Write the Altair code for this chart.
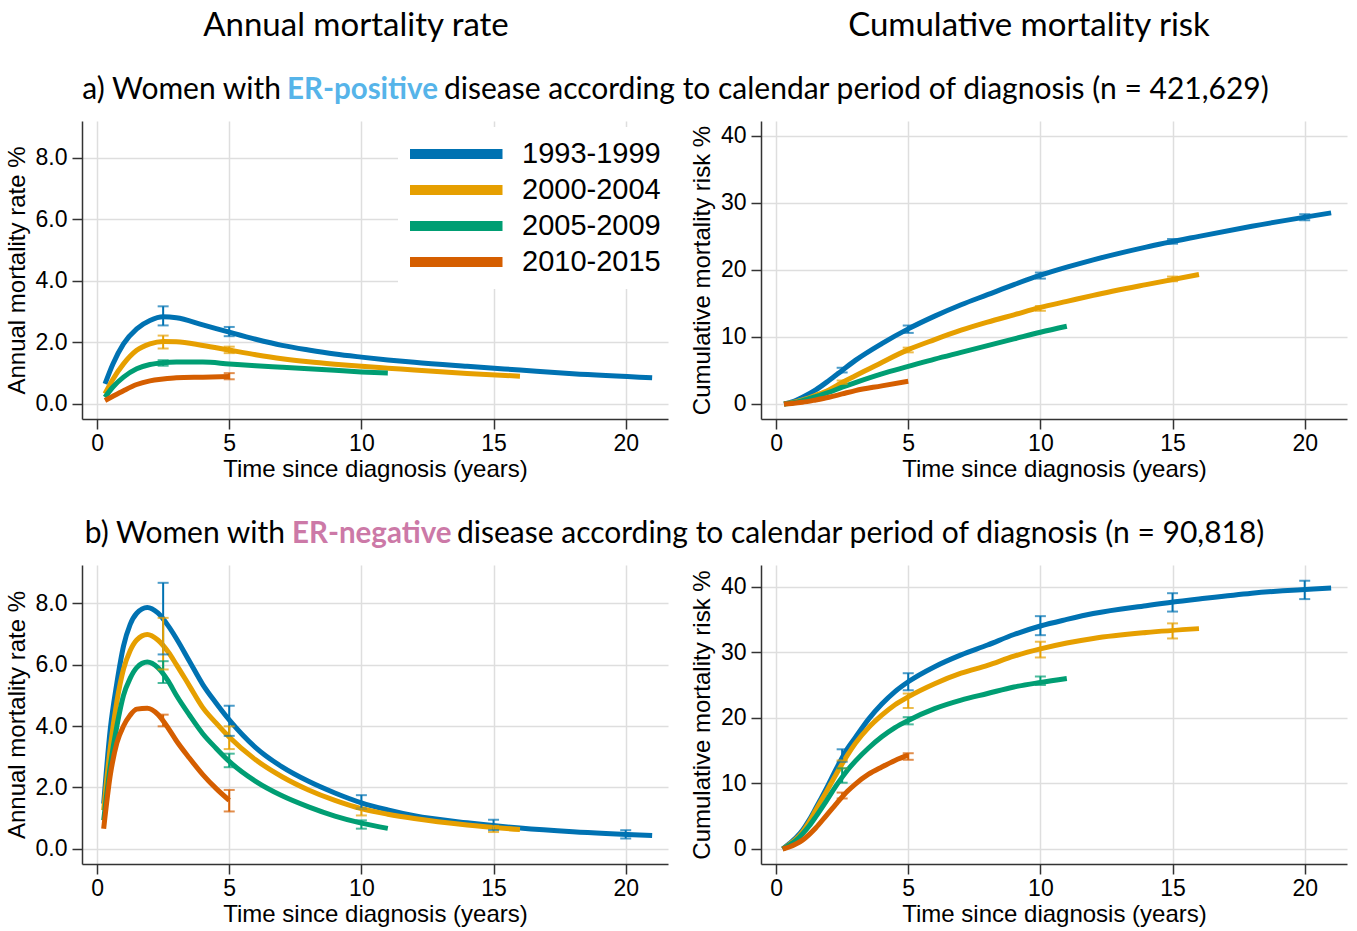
import altair as alt
import pandas as pd

# ---------------- data ----------------
PERIODS = ["1993-1999", "2000-2004", "2005-2009", "2010-2015"]
PERIOD_COLORS = ["#0072B2", "#E69F00", "#009E73", "#D55E00"]

# time grid (years) for ER-positive curves; each series uses the leading part
T_POS = [0.3, 0.6, 1, 1.5, 2, 2.5, 3, 4, 5, 6, 7, 8, 9, 10, 11, 12, 14, 16, 18, 21]

# ER-positive, annual mortality rate (%)
POS_RATE_9399 = [0.65, 1.3, 1.95, 2.44, 2.71, 2.83, 2.8, 2.57, 2.33, 2.1, 1.9, 1.75, 1.62, 1.52, 1.43, 1.35, 1.22, 1.1, 0.98, 0.85]
POS_RATE_0004 = [0.33, 0.8, 1.3, 1.74, 1.95, 2.03, 2.02, 1.9, 1.75, 1.6, 1.47, 1.37, 1.29, 1.22, 1.16, 1.1, 0.99, 0.9]
POS_RATE_0509 = [0.22, 0.55, 0.87, 1.14, 1.28, 1.34, 1.36, 1.36, 1.3, 1.24, 1.19, 1.14, 1.09, 1.04, 1.0]
POS_RATE_1015 = [0.11, 0.25, 0.43, 0.63, 0.75, 0.81, 0.85, 0.87, 0.89]

# ER-positive, cumulative mortality risk (%)
POS_CUM_9399 = [0, 0.3, 1.0, 2.1, 3.5, 5.0, 6.5, 9.0, 11.2, 13.1, 14.8, 16.3, 17.8, 19.2, 20.4, 21.5, 23.4, 25.0, 26.5, 28.5]
POS_CUM_0004 = [0, 0.2, 0.6, 1.3, 2.1, 3.2, 4.2, 6.2, 8.1, 9.6, 11.0, 12.2, 13.3, 14.4, 15.3, 16.2, 17.8, 19.3]
POS_CUM_0509 = [0, 0.15, 0.5, 1.1, 1.75, 2.5, 3.2, 4.5, 5.6, 6.7, 7.7, 8.7, 9.7, 10.7, 11.6]
POS_CUM_1015 = [0, 0.08, 0.25, 0.6, 1.0, 1.5, 2.0, 2.7, 3.4]

# time grid (years) for ER-negative curves
T_NEG = [0.25, 0.5, 0.75, 1, 1.25, 1.5, 1.9, 2.3, 2.7, 3, 3.5, 4, 4.5, 5, 6, 7, 8, 9, 10, 11, 12, 14, 16, 18, 21]

# ER-negative, annual mortality rate (%)
NEG_RATE_9399 = [1.47, 3.9, 5.4, 6.6, 7.3, 7.67, 7.86, 7.68, 7.25, 6.85, 6.1, 5.35, 4.75, 4.2, 3.3, 2.67, 2.2, 1.82, 1.5, 1.27, 1.08, 0.85, 0.68, 0.56, 0.44]
NEG_RATE_0004 = [1.26, 3.3, 4.8, 5.85, 6.45, 6.8, 6.98, 6.8, 6.4, 6.0, 5.3, 4.6, 4.1, 3.64, 2.9, 2.35, 1.92, 1.58, 1.31, 1.13, 0.99, 0.78, 0.63]
NEG_RATE_0509 = [0.93, 2.7, 4.0, 5.0, 5.55, 5.9, 6.08, 5.9, 5.45, 5.0, 4.35, 3.75, 3.28, 2.85, 2.2, 1.73, 1.37, 1.07, 0.84, 0.67]
NEG_RATE_1015 = [0.66, 2.4, 3.45, 4.0, 4.35, 4.55, 4.58, 4.38, 3.92, 3.52, 2.95, 2.42, 1.97, 1.58]

# ER-negative, cumulative mortality risk (%)
NEG_CUM_9399 = [0, 0.8, 1.7, 2.85, 4.4, 6.2, 9.2, 12.4, 15.3, 17.0, 19.8, 22.1, 24.0, 25.5, 27.8, 29.6, 31.1, 32.7, 34.0, 35.0, 35.9, 37.1, 38.1, 39.0, 39.8]
NEG_CUM_0004 = [0, 0.7, 1.5, 2.6, 4.1, 5.9, 8.7, 11.6, 14.3, 16.1, 18.5, 20.4, 22.0, 23.2, 25.2, 26.8, 28.0, 29.4, 30.5, 31.4, 32.1, 33.0, 33.6]
NEG_CUM_0509 = [0, 0.6, 1.3, 2.3, 3.5, 4.9, 7.3, 9.8, 12.0, 13.4, 15.4, 17.1, 18.5, 19.6, 21.4, 22.7, 23.7, 24.7, 25.4, 26.0]
NEG_CUM_1015 = [0, 0.3, 0.75, 1.35, 2.2, 3.2, 5.1, 7.0, 8.8, 9.9, 11.4, 12.5, 13.5, 14.3]

# confidence intervals (error bars)
POS_RATE_BAR_PERIOD = ["1993-1999", "1993-1999", "2000-2004", "2000-2004", "2005-2009", "2010-2015"]
POS_RATE_BAR_T = [2.5, 5, 2.5, 5, 2.5, 5]
POS_RATE_BAR_LO = [2.55, 2.2, 1.8, 1.65, 1.24, 0.8]
POS_RATE_BAR_HI = [3.17, 2.5, 2.22, 1.86, 1.42, 1.0]

POS_CUM_BAR_PERIOD = ["1993-1999"] * 5 + ["2000-2004"] * 4
POS_CUM_BAR_T = [2.5, 5, 10, 15, 20, 2.5, 5, 10, 15]
POS_CUM_BAR_LO = [4.7, 10.6, 18.7, 23.9, 27.4, 3.0, 7.7, 13.9, 18.3]
POS_CUM_BAR_HI = [5.4, 11.7, 19.6, 24.6, 28.3, 3.5, 8.4, 14.6, 19.0]

NEG_RATE_BAR_PERIOD = ["1993-1999"] * 5 + ["2000-2004"] * 4 + ["2005-2009"] * 3 + ["2010-2015"] * 2
NEG_RATE_BAR_T = [2.5, 5, 10, 15, 20, 2.5, 5, 10, 15, 2.5, 5, 10, 2.5, 5]
NEG_RATE_BAR_LO = [6.33, 3.68, 1.31, 0.61, 0.34, 5.84, 3.25, 1.09, 0.55, 5.40, 2.66, 0.66, 3.99, 1.22]
NEG_RATE_BAR_HI = [8.66, 4.66, 1.75, 0.95, 0.61, 7.52, 3.99, 1.31, 0.75, 6.11, 3.10, 0.93, 4.37, 1.92]

NEG_CUM_BAR_PERIOD = ["1993-1999"] * 5 + ["2000-2004"] * 4 + ["2005-2009"] * 3 + ["2010-2015"] * 2
NEG_CUM_BAR_T = [2.5, 5, 10, 15, 20, 2.5, 5, 10, 15, 2.5, 5, 10, 2.5, 5]
NEG_CUM_BAR_LO = [13.3, 24.2, 32.6, 36.2, 38.1, 12.3, 21.5, 29.2, 32.1, 10.1, 19.0, 25.0, 7.7, 13.6]
NEG_CUM_BAR_HI = [15.2, 26.8, 35.5, 39.0, 40.9, 13.5, 23.7, 31.6, 34.4, 12.3, 20.1, 26.3, 8.6, 14.6]

X_TICKS = [0, 5, 10, 15, 20]
RATE_TICKS = [0, 2, 4, 6, 8]
CUM_TICKS = [0, 10, 20, 30, 40]

COL_TITLES = ["Annual mortality rate", "Cumulative mortality risk"]
ROW_A = ["a) Women with", "ER-positive", "disease according to calendar period of diagnosis (n = 421,629)"]
ROW_B = ["b) Women with", "ER-negative", "disease according to calendar period of diagnosis (n = 90,818)"]
ER_POS_COLOR = "#56B4E9"
ER_NEG_COLOR = "#CC79A7"

# ---------------- helpers ----------------
AXIS_FONT = "Liberation Sans"
HEAD_FONT = "Lato"
PANEL_W = 586


def curve_frame(times, series):
    rows = []
    for period, vals in zip(PERIODS, series):
        for t, v in zip(times, vals):
            rows.append({"period": period, "t": t, "v": v})
    return pd.DataFrame(rows)


def bar_frame(periods, ts, lo, hi):
    return pd.DataFrame({"period": periods, "t": ts, "lo": lo, "hi": hi})


def panel(curves, bars, ydom, yticks, yfmt, ytitle, height, legend=None):
    xsc = alt.Scale(domain=[-0.57, 21.6], nice=False, zero=False)
    ysc = alt.Scale(domain=ydom, nice=False, zero=False)
    cscale = alt.Scale(domain=PERIODS, range=PERIOD_COLORS)
    xax = alt.Axis(values=X_TICKS, title="Time since diagnosis (years)", format="d")
    yax = alt.Axis(values=yticks, title=ytitle, format=yfmt)
    lines = alt.Chart(curves).mark_line(strokeWidth=5, interpolate="monotone").encode(
        x=alt.X("t:Q", scale=xsc, axis=xax),
        y=alt.Y("v:Q", scale=ysc, axis=yax),
        color=alt.Color("period:N", scale=cscale, legend=legend),
    )
    rules = alt.Chart(bars).mark_rule(strokeWidth=2).encode(
        x=alt.X("t:Q", scale=xsc, axis=xax),
        y=alt.Y("lo:Q", scale=ysc, axis=yax),
        y2="hi:Q",
        color=alt.Color("period:N", scale=cscale, legend=None),
    )
    caps_lo = alt.Chart(bars).mark_tick(orient="horizontal", size=11, thickness=2).encode(
        x=alt.X("t:Q", scale=xsc, axis=xax),
        y=alt.Y("lo:Q", scale=ysc, axis=yax),
        color=alt.Color("period:N", scale=cscale, legend=None),
    )
    caps_hi = alt.Chart(bars).mark_tick(orient="horizontal", size=11, thickness=2).encode(
        x=alt.X("t:Q", scale=xsc, axis=xax),
        y=alt.Y("hi:Q", scale=ysc, axis=yax),
        color=alt.Color("period:N", scale=cscale, legend=None),
    )
    return alt.layer(lines, rules, caps_lo, caps_hi).properties(width=PANEL_W, height=height)


def text_item(s, x, y, align="left", size=30, weight="normal", color="black"):
    return alt.Chart(pd.DataFrame({"s": [s]})).mark_text(
        align=align, baseline="middle", font=HEAD_FONT, fontSize=size,
        fontWeight=weight, color=color,
    ).encode(x=alt.value(x), y=alt.value(y), text="s:N")


def row_title(parts, color, y, x_end1, x_start2, x_start3):
    return [
        text_item(parts[0], x_end1, y, align="right"),
        text_item(parts[1], x_start2, y, size=29.5, weight="bold", color=color),
        text_item(parts[2], x_start3, y),
    ]


header_left = alt.layer(
    text_item(COL_TITLES[0], 274, 26, align="center", size=33),
    *row_title(ROW_A, ER_POS_COLOR, 90, 199, 205, 362),
).properties(width=PANEL_W, height=121)
header_right = alt.layer(
    text_item(COL_TITLES[1], 268, 26, align="center", size=33),
).properties(width=PANEL_W, height=121)

middle_left = alt.layer(
    *row_title(ROW_B, ER_NEG_COLOR, 115, 203, 210, 375),
).properties(width=PANEL_W, height=146)
middle_right = alt.layer(
    text_item("", 0, 0),
).properties(width=PANEL_W, height=146)

legend = alt.Legend(
    orient="none", legendX=316, legendY=6, title=None,
    symbolType="M-3,0H15.6", symbolSize=100, symbolStrokeWidth=10,
    labelFont=AXIS_FONT, labelFontSize=29, labelColor="black",
    labelOffset=83, rowPadding=6, clipHeight=30, padding=12, fillColor="white",
)

top_left = panel(curve_frame(T_POS, [POS_RATE_9399, POS_RATE_0004, POS_RATE_0509, POS_RATE_1015]),
                 bar_frame(POS_RATE_BAR_PERIOD, POS_RATE_BAR_T, POS_RATE_BAR_LO, POS_RATE_BAR_HI),
                 [-0.49, 9.19], RATE_TICKS, ".1f", "Annual mortality rate %", 298, legend=legend)
top_right = panel(curve_frame(T_POS, [POS_CUM_9399, POS_CUM_0004, POS_CUM_0509, POS_CUM_1015]),
                  bar_frame(POS_CUM_BAR_PERIOD, POS_CUM_BAR_T, POS_CUM_BAR_LO, POS_CUM_BAR_HI),
                  [-2.24, 42.2], CUM_TICKS, "d", "Cumulative mortality risk %", 298)
bot_left = panel(curve_frame(T_NEG, [NEG_RATE_9399, NEG_RATE_0004, NEG_RATE_0509, NEG_RATE_1015]),
                 bar_frame(NEG_RATE_BAR_PERIOD, NEG_RATE_BAR_T, NEG_RATE_BAR_LO, NEG_RATE_BAR_HI),
                 [-0.49, 9.24], RATE_TICKS, ".1f", "Annual mortality rate %", 299)
bot_right = panel(curve_frame(T_NEG, [NEG_CUM_9399, NEG_CUM_0004, NEG_CUM_0509, NEG_CUM_1015]),
                  bar_frame(NEG_CUM_BAR_PERIOD, NEG_CUM_BAR_T, NEG_CUM_BAR_LO, NEG_CUM_BAR_HI),
                  [-2.29, 43.3], CUM_TICKS, "d", "Cumulative mortality risk %", 299)

chart = alt.concat(
    header_left, header_right,
    top_left, top_right,
    middle_left, middle_right,
    bot_left, bot_right,
    columns=2, spacing={"row": 0, "column": 93}, bounds="flush",
).resolve_legend(
    color="independent"
).properties(
    padding={"left": 5, "top": 0, "right": 5, "bottom": 5}
).configure_view(stroke=None).configure_axis(
    labelFont=AXIS_FONT, labelFontSize=23, labelColor="black", labelPadding=5,
    titleFont=AXIS_FONT, titleFontSize=24, titleFontWeight="normal", titleColor="black",
    tickSize=10, tickColor="#333333", tickWidth=1.5,
    domainColor="#333333", domainWidth=1.5,
    gridColor="#dedede", gridWidth=1.5,
).configure_axisX(titlePadding=2, labelPadding=3).configure_axisY(titlePadding=6)

chart.save("out.html", embed_options={"renderer": "svg", "actions": False})
